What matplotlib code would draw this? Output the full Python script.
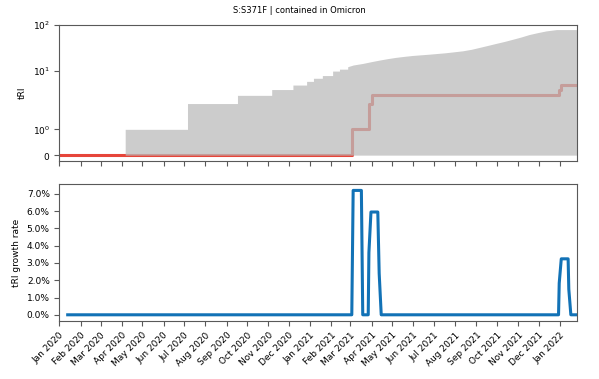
import matplotlib
matplotlib.use("Agg")
import matplotlib.pyplot as plt
import matplotlib.dates as mdates
from matplotlib.ticker import PercentFormatter, NullLocator, MultipleLocator
import numpy as np
import pandas as pd

# cumulative tRI of all lineages (grey area), early part is a staircase
step_dates = ["2020-01-01", "2020-04-06", "2020-07-06", "2020-09-17", "2020-11-06",
              "2020-12-07", "2020-12-27", "2021-01-06", "2021-01-19", "2021-02-03",
              "2021-02-13", "2021-02-25"]
step_tri = [0, 1, 2, 3, 4,
            5, 6, 7, 8, 10,
            11, 12]

# later part rises smoothly
smooth_dates = ["2021-02-25", "2021-03-05", "2021-03-19", "2021-04-01", "2021-04-12",
                "2021-04-24", "2021-05-06", "2021-05-18", "2021-05-31", "2021-06-24",
                "2021-07-18", "2021-08-12", "2021-08-25", "2021-09-05", "2021-09-17",
                "2021-09-29", "2021-10-12", "2021-10-24", "2021-11-05", "2021-11-17",
                "2021-11-30", "2021-12-12", "2021-12-27", "2022-01-26"]
smooth_tri = [12.4, 13.5, 14.6, 16, 17.2,
              18.5, 19.7, 20.7, 21.7, 23.1,
              24.8, 27.3, 29.5, 32.2, 35.5,
              39.2, 43.5, 48.4, 54, 61.1,
              67.5, 73.3, 78.2, 78.2]

# tRI of the mutation (red line)
mut_dates = ["2020-01-01", "2021-03-03", "2021-03-28", "2021-04-01",
             "2021-12-31", "2022-01-02", "2022-01-26"]
mut_tri = [0, 1, 2, 3, 4, 5, 5]

# growth rate
growth_dates = ["2020-01-13", "2021-03-03", "2021-03-05", "2021-03-17", "2021-03-19",
                "2021-03-27", "2021-03-28", "2021-03-31", "2021-04-10", "2021-04-12",
                "2021-04-15", "2021-12-30", "2021-12-31", "2022-01-03", "2022-01-13",
                "2022-01-14", "2022-01-17", "2022-01-25"]
growth_rate = [0, 0, 0.072, 0.072, 0,
               0, 0.036, 0.0595, 0.0595, 0.024,
               0, 0, 0.0183, 0.0324, 0.0324,
               0.0148, 0, 0]

title = "S:S371F | contained in Omicron"

step_dates = pd.to_datetime(step_dates)
smooth_dates = pd.to_datetime(smooth_dates)
mut_dates = pd.to_datetime(mut_dates)
growth_dates = pd.to_datetime(growth_dates)

# join staircase and smooth part into one outline so there is no seam
area_x = np.concatenate([np.repeat(step_dates.values, 2)[1:], smooth_dates.values])
area_y = np.concatenate([np.repeat(step_tri, 2)[:-1], smooth_tri])

plt.rcParams["font.size"] = 6.5
plt.rcParams["axes.edgecolor"] = "0.35"
plt.rcParams["xtick.color"] = "0.35"
plt.rcParams["ytick.color"] = "0.35"
plt.rcParams["xtick.labelcolor"] = "black"
plt.rcParams["ytick.labelcolor"] = "black"

fig = plt.figure(figsize=(5.99, 3.79), dpi=100)
ax1 = fig.add_axes([0.0993, 0.575, 0.864, 0.360])
ax2 = fig.add_axes([0.0993, 0.153, 0.864, 0.361], sharex=ax1)

ax1.plot(mut_dates, mut_tri, color="#e6453a", lw=2.2, drawstyle="steps-post", zorder=1)
ax1.fill_between(area_x, 0, area_y, color="#bbbbbb", alpha=0.75, lw=0, zorder=2)
ax1.set_yscale("symlog", linthresh=2, linscale=1)
ax1.set_ylim(-0.23, 100)
ax1.set_yticks([0, 1, 10, 100])
ax1.yaxis.set_minor_locator(NullLocator())
ax1.set_ylabel("tRI")
plt.setp(ax1.get_xticklabels(), visible=False)

ax2.plot(growth_dates, growth_rate, color="#1272b6", lw=2.2)
ax2.yaxis.set_major_locator(MultipleLocator(0.01))
ax2.yaxis.set_major_formatter(PercentFormatter(1.0, decimals=1))
ax2.set_ylabel("tRI growth rate")

ax2.set_xlim(pd.Timestamp("2020-01-01"), pd.Timestamp("2022-01-26"))
ax2.xaxis.set_major_locator(mdates.MonthLocator())
ax2.xaxis.set_major_formatter(mdates.DateFormatter("%b %Y"))
plt.setp(ax2.get_xticklabels(), rotation=45, ha="right", rotation_mode="anchor")

fig.suptitle(title, y=0.972, va="center", fontsize=6)

fig.savefig("out.png", dpi=100)
